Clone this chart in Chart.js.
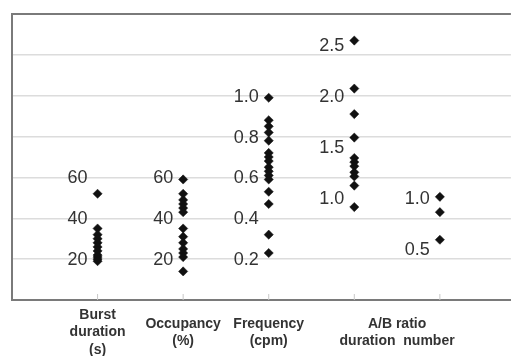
<!DOCTYPE html>
<html>
<head>
<meta charset="utf-8">
<script src="https://cdn.jsdelivr.net/npm/chart.js@4.4.1/dist/chart.umd.min.js"></script>
<style>
  html, body { margin: 0; padding: 0; background: #fff; }
  #wrap { width: 516px; height: 356px; }
</style>
</head>
<body>
<div id="wrap"><canvas id="chart" width="516" height="356"></canvas></div>
<script>
// --- dados ---
const burstDuration = [52, 35, 32, 30, 28, 26, 24, 22, 21, 20, 19];          // s
const occupancy = [59, 52, 49, 47, 45, 43, 35, 31, 28, 25, 23, 21, 14];      // %
const frequency = [0.99, 0.88, 0.85, 0.82, 0.78, 0.72, 0.70, 0.68, 0.65, 0.63, 0.61, 0.59, 0.53, 0.47, 0.32, 0.23]; // cpm
const abDuration = [2.54, 2.07, 1.82, 1.59, 1.39, 1.35, 1.31, 1.25, 1.21, 1.12, 0.91];
const abNumber = [1.01, 0.86, 0.59];

// rótulos de escala desenhados ao lado de cada coluna
const burstTicks = [20, 40, 60];
const occupancyTicks = [20, 40, 60];
const frequencyTicks = [0.2, 0.4, 0.6, 0.8, 1.0];
const abDurationTicks = [1.0, 1.5, 2.0, 2.5];
const abNumberTicks = [0.5, 1.0];

const catLabels = [['Burst', 'duration', '(s)'], ['Occupancy', '(%)'], ['Frequency', '(cpm)'], ['A/B ratio', 'duration  number']];
const catLabelPos = [1, 2, 3, 4.5];

const columns = [
    { x: 1, values: burstDuration, axis: 'yS', ticks: burstTicks, fmt: v => v.toFixed(0) },
    { x: 2, values: occupancy, axis: 'yS', ticks: occupancyTicks, fmt: v => v.toFixed(0) },
    { x: 3, values: frequency, axis: 'yF', ticks: frequencyTicks, fmt: v => v.toFixed(1) },
    { x: 4, values: abDuration, axis: 'yR', ticks: abDurationTicks, fmt: v => v.toFixed(1) },
    { x: 5, values: abNumber, axis: 'yR', ticks: abNumberTicks, fmt: v => v.toFixed(1) }
];

// rótulos internos + pequenas marcas do eixo x
const columnLabels = {
    id: 'columnLabels',
    afterDatasetsDraw(chart) {
        const ctx = chart.ctx;
        const xs = chart.scales.x;
        const area = chart.chartArea;
        ctx.save();
        ctx.strokeStyle = '#c8c8c8';
        ctx.lineWidth = 1;
        columns.forEach(col => {
            const px = xs.getPixelForValue(col.x);
            ctx.beginPath();
            ctx.moveTo(px, area.bottom - 6);
            ctx.lineTo(px, area.bottom);
            ctx.stroke();
        });
        ctx.fillStyle = '#333';
        ctx.font = '18px "Liberation Sans", Arial, sans-serif';
        ctx.textAlign = 'right';
        ctx.textBaseline = 'middle';
        columns.forEach(col => {
            const ys = chart.scales[col.axis];
            const px = xs.getPixelForValue(col.x) - 10;
            col.ticks.forEach(t => {
                ctx.fillText(col.fmt(t), px, ys.getPixelForValue(t) + 1);
            });
        });
        ctx.restore();
    }
};

new Chart(document.getElementById('chart'), {
    type: 'scatter',
    data: {
        datasets: columns.map(col => ({
            data: col.values.map(v => ({ x: col.x, y: v })),
            yAxisID: col.axis,
            pointStyle: 'rectRot',
            pointRadius: 4.6,
            pointBackgroundColor: '#111',
            pointBorderColor: '#111',
            pointBorderWidth: 0.5
        }))
    },
    options: {
        responsive: false,
        animation: false,
        layout: { padding: { left: 12, top: 14, right: 0, bottom: 0 } },
        plugins: { legend: { display: false }, tooltip: { enabled: false } },
        scales: {
            x: {
                type: 'linear',
                min: 0,
                max: 5.83,
                afterBuildTicks: axis => { axis.ticks = catLabelPos.map(v => ({ value: v })); },
                afterFit: axis => { axis.height = 56; },
                grid: { display: false, drawTicks: false },
                border: { display: true, color: '#7a7a7a', width: 2 },
                ticks: {
                    autoSkip: false,
                    maxRotation: 0,
                    padding: 15,
                    crossAlign: 'center',
                    color: '#333',
                    font: { family: '"Liberation Sans", Arial, sans-serif', size: 14, weight: 'bold', lineHeight: 1.25 },
                    callback: v => catLabels[catLabelPos.indexOf(v)]
                }
            },
            yS: {
                position: 'left',
                min: 0,
                max: 140,
                grid: {
                    drawTicks: false,
                    color: c => (c.tick.value === 140 ? '#7a7a7a' : '#dcdcdc'),
                    lineWidth: c => (c.tick.value === 140 ? 2 : 1.5)
                },
                border: { display: true, color: '#7a7a7a', width: 2 },
                ticks: { display: false, stepSize: 20 }
            },
            yF: { display: false, min: 0, max: 1.4 },
            yR: { display: false, min: 0, max: 2.8 }
        }
    },
    plugins: [columnLabels]
});
</script>
</body>
</html>
